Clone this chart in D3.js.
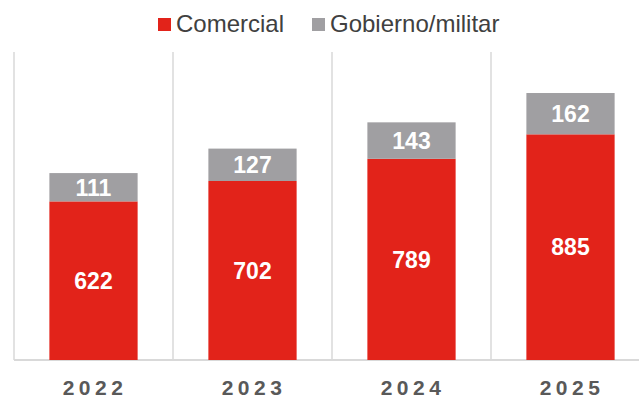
<!DOCTYPE html>
<html>
<head>
<meta charset="utf-8">
<script src="https://cdn.jsdelivr.net/npm/d3@7"></script>
<style>
  body { margin: 0; background: #fff; }
  svg { display: block; font-family: "Liberation Sans", Arial, sans-serif; }
</style>
</head>
<body>
<svg id="chart" width="639" height="400"></svg>
<script>
var years = ["2022", "2023", "2024", "2025"];
var comercial = [622, 702, 789, 885];
var gobierno = [111, 127, 143, 162];
var seriesNames = ["Comercial", "Gobierno/militar"];
var colors = ["#e2231a", "#a09fa2"];

var svg = d3.select("#chart"),
  left = 14, bandW = 159,
  x = d3.scaleBand().domain(years).range([left, left + bandW * years.length]).paddingInner(0.445).paddingOuter(0.2225),
  y = d3.scaleLinear().domain([0, 1200]).range([360, 54]);

var rows = years.map(function(yr, i){
  return {year: yr, Comercial: comercial[i], "Gobierno/militar": gobierno[i]};
});
var stacked = d3.stack().keys(seriesNames)(rows);

// category separators
var grid = svg.append("g");
d3.range(years.length + 1).forEach(function(i){
  var gx = left + bandW * i;
  grid.append("line")
    .attr("x1", gx).attr("x2", gx)
    .attr("y1", y(1200) - 2).attr("y2", y(0))
    .attr("stroke", "#d9d9d9").attr("stroke-width", 1.5);
});
grid.append("line")
  .attr("x1", left).attr("x2", 639)
  .attr("y1", y(0)).attr("y2", y(0))
  .attr("stroke", "#d9d9d9").attr("stroke-width", 2);

stacked.forEach(function(layer, k){
  var g = svg.append("g");
  g.selectAll("rect").data(layer).enter().append("rect")
    .attr("x", function(d){ return x(d.data.year); })
    .attr("width", x.bandwidth())
    .attr("y", function(d){ return y(d[1]); })
    .attr("height", function(d){ return y(d[0]) - y(d[1]); })
    .attr("fill", colors[k]);
  g.selectAll("text").data(layer).enter().append("text")
    .attr("x", function(d){ return x(d.data.year) + x.bandwidth() / 2; })
    .attr("y", function(d){ return (y(d[0]) + y(d[1])) / 2; })
    .attr("dy", "0.36em")
    .attr("text-anchor", "middle")
    .attr("fill", "#fff")
    .attr("font-weight", "bold")
    .attr("font-size", 23)
    .text(function(d){ return d[1] - d[0]; });
});

// year labels
svg.append("g").selectAll("text").data(years).enter().append("text")
  .attr("x", function(d){ return x(d) + x.bandwidth() / 2 + 1.5; })
  .attr("y", 395)
  .attr("text-anchor", "middle")
  .attr("fill", "#595959")
  .attr("font-weight", "bold")
  .attr("font-size", 21)
  .attr("letter-spacing", 4.5)
  .text(function(d){ return d; });

// legend
var legend = svg.append("g");
var legendX = [158, 312];
seriesNames.forEach(function(name, i){
  legend.append("rect")
    .attr("x", legendX[i]).attr("y", 18)
    .attr("width", 13).attr("height", 13)
    .attr("fill", colors[i]);
  legend.append("text")
    .attr("x", legendX[i] + 18).attr("y", 32)
    .attr("fill", "#404040")
    .attr("font-size", 24)
    .text(name);
});
</script>
</body>
</html>
